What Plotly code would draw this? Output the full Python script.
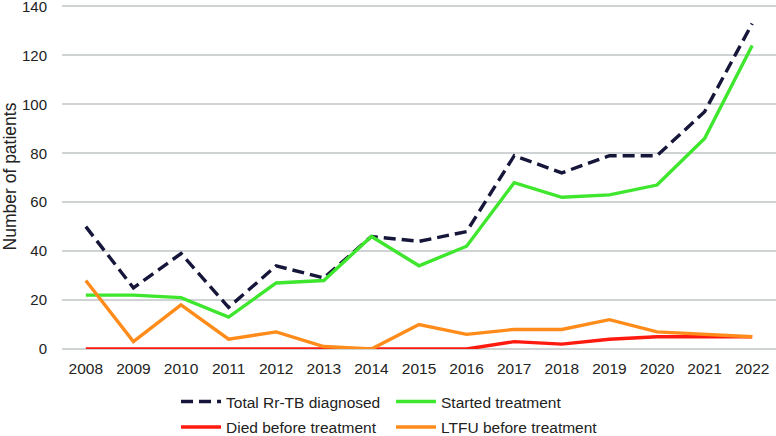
import plotly.graph_objects as go

years = [str(y) for y in range(2008, 2023)]
total_diagnosed = [50, 25, 39, 17, 34, 29, 46, 44, 48, 79, 72, 79, 79, 97, 133]
started_treatment = [22, 22, 21, 13, 27, 28, 46, 34, 42, 68, 62, 63, 67, 86, 124]
died_before = [0, 0, 0, 0, 0, 0, 0, 0, 0, 3, 2, 4, 5, 5, 5]
ltfu_before = [28, 3, 18, 4, 7, 1, 0, 10, 6, 8, 8, 12, 7, 6, 5]

FONT = "Liberation Sans, Arial, sans-serif"
TXT = "#222222"

fig = go.Figure()
fig.add_trace(go.Scatter(x=years, y=total_diagnosed, mode="lines", name="Total Rr-TB diagnosed",
                         legend="legend",
                         line=dict(color="#15163a", width=3.4, dash="12px,6px")))
fig.add_trace(go.Scatter(x=years, y=started_treatment, mode="lines", name="Started treatment",
                         legend="legend",
                         line=dict(color="#3ee62e", width=3.4)))
fig.add_trace(go.Scatter(x=years, y=died_before, mode="lines", name="Died before treatment",
                         legend="legend2",
                         line=dict(color="#ff1a10", width=3.4)))
fig.add_trace(go.Scatter(x=years, y=ltfu_before, mode="lines", name="LTFU before treatment",
                         legend="legend2",
                         line=dict(color="#ff8c1a", width=3.4)))

leg_common = dict(orientation="h", xanchor="left", yanchor="middle",
                  entrywidth=160, entrywidthmode="pixels",
                  font=dict(family=FONT, size=15.5, color=TXT),
                  bgcolor="rgba(0,0,0,0)", itemwidth=40)

fig.update_layout(
    width=776, height=436,
    margin=dict(l=62, r=0, t=4, b=87, autoexpand=False),
    paper_bgcolor="white", plot_bgcolor="white",
    font=dict(family=FONT, size=15.5, color=TXT),
    showlegend=True,
    legend=dict(x=0.1597, y=-0.1536, **leg_common),
    legend2=dict(x=0.1597, y=-0.2275, **leg_common),
    xaxis=dict(type="category", range=[-0.5, 14.5], showgrid=False, showline=False, ticks="",
               ticklabelstandoff=8,
               tickfont=dict(family=FONT, size=15.5, color=TXT)),
    yaxis=dict(range=[0, 141], tickvals=[0, 20, 40, 60, 80, 100, 120, 140],
               showgrid=True, gridcolor="#cfd3d4", gridwidth=1.5,
               zeroline=True, zerolinecolor="#cfd3d4", zerolinewidth=1.5, showline=False,
               ticks="", ticklabelstandoff=14, ticklabeloverflow="allow",
               tickfont=dict(family=FONT, size=15, color=TXT)),
)
fig.update_yaxes(title=dict(text="Number of patients", standoff=4,
                            font=dict(family=FONT, size=17.5, color=TXT)))

fig.write_html("out.html")
